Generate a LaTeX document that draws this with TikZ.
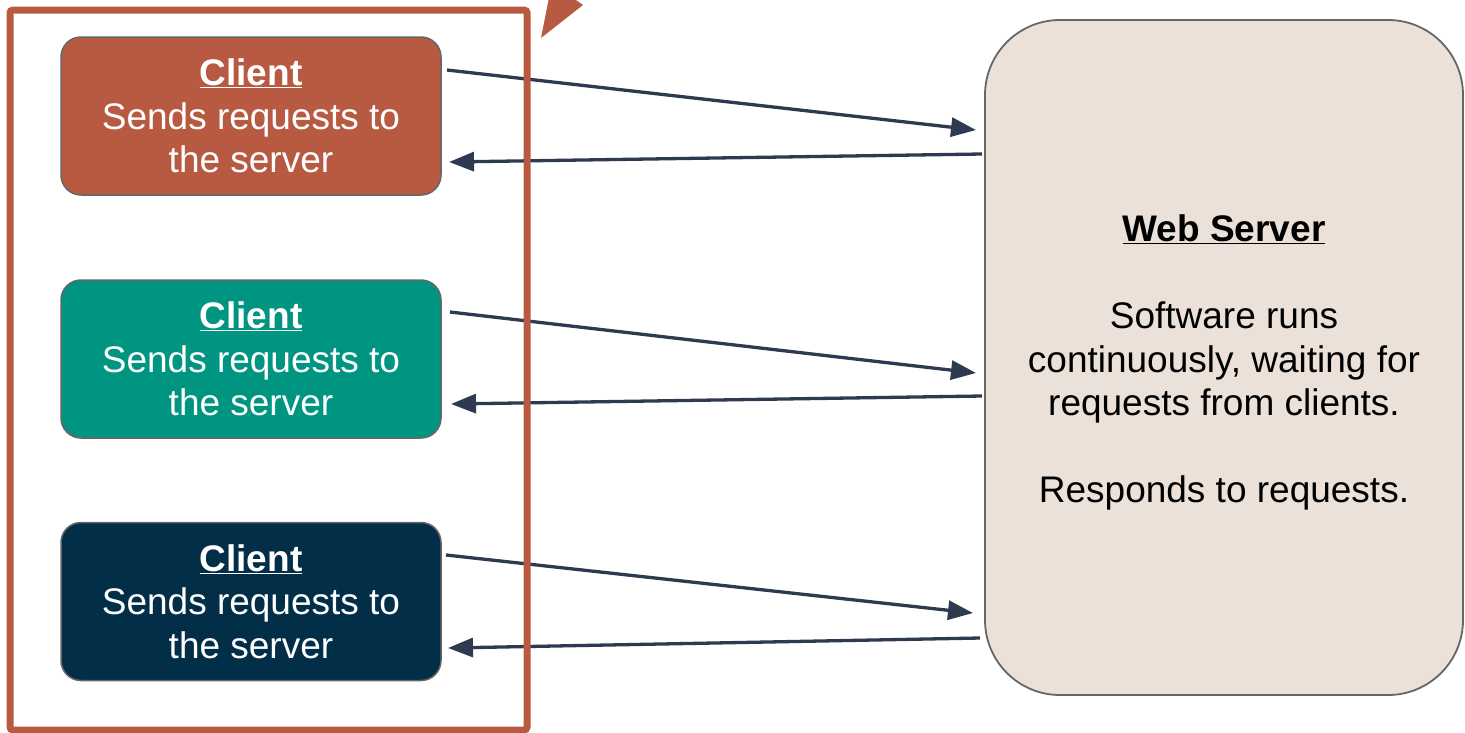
\documentclass[tikz,border=0pt]{standalone}
\usepackage{fontspec}
\setmainfont{Liberation Sans}
\usetikzlibrary{arrows.meta}
\definecolor{rust}{HTML}{B85A42}
\definecolor{teal2}{HTML}{009581}
\definecolor{navy2}{HTML}{032E47}
\definecolor{sand}{HTML}{EBE1D9}
\definecolor{slate}{HTML}{2E3A4F}
\definecolor{edgegray}{HTML}{666666}
\tikzset{
  client/.style={draw=edgegray, line width=1.5pt, rounded corners=20pt, minimum width=380pt, minimum height=158pt, inner sep=0pt, text=white, align=center, font=\fontsize{37}{43.5}\selectfont},
  server/.style={draw=edgegray, line width=1.8pt, fill=sand, rounded corners=75pt, minimum width=478pt, minimum height=675pt, inner sep=0pt},
  servertext/.style={text=black, align=center, inner sep=0pt, font=\fontsize{37}{43.5}\selectfont},
  arr/.style={draw=slate, line width=3.3pt, -{Triangle[length=25pt,width=19pt]}},
  frame/.style={draw=rust, line width=7pt, rounded corners=3pt}
}
\newcommand{\hd}[1]{\underline{\textbf{#1}}}
\begin{document}
\begin{tikzpicture}[x=1pt,y=-1pt]
\useasboundingbox (0,0) rectangle (1465,732);
\node[client, fill=rust] (c1) at (251,116) {\hd{Client}\\Sends requests to\\the server};
\node[client, fill=teal2] (c2) at (251,359) {\hd{Client}\\Sends requests to\\the server};
\node[client, fill=navy2] (c3) at (251,601.5) {\hd{Client}\\Sends requests to\\the server};
\node[server] (s) at (1224,357.5) {};
\node[servertext] (st) at ([yshift=-5pt]s.center) {\hd{Web Server}\\[43.5pt]Software runs\\continuously, waiting for\\requests from clients.\\[43.5pt]Responds to requests.};
% connector end points
\coordinate (a1) at (447,70);  \coordinate (b1) at (976,130);
\coordinate (d1) at (982,154); \coordinate (e1) at (449,162);
\coordinate (a2) at (450,312); \coordinate (b2) at (976,373);
\coordinate (d2) at (982,396); \coordinate (e2) at (451,404);
\coordinate (a3) at (446,555); \coordinate (b3) at (973,613);
\coordinate (d3) at (980,638); \coordinate (e3) at (448,648);
\draw[arr] (a1) -- (b1);
\draw[arr] (d1) -- (e1);
\draw[arr] (a2) -- (b2);
\draw[arr] (d2) -- (e2);
\draw[arr] (a3) -- (b3);
\draw[arr] (d3) -- (e3);
\draw[frame] (10,10) rectangle (527,730);
\fill[rust] (541,38) -- (548.5,0) -- (576,0) -- (583,5) -- cycle;
\end{tikzpicture}
\end{document}
